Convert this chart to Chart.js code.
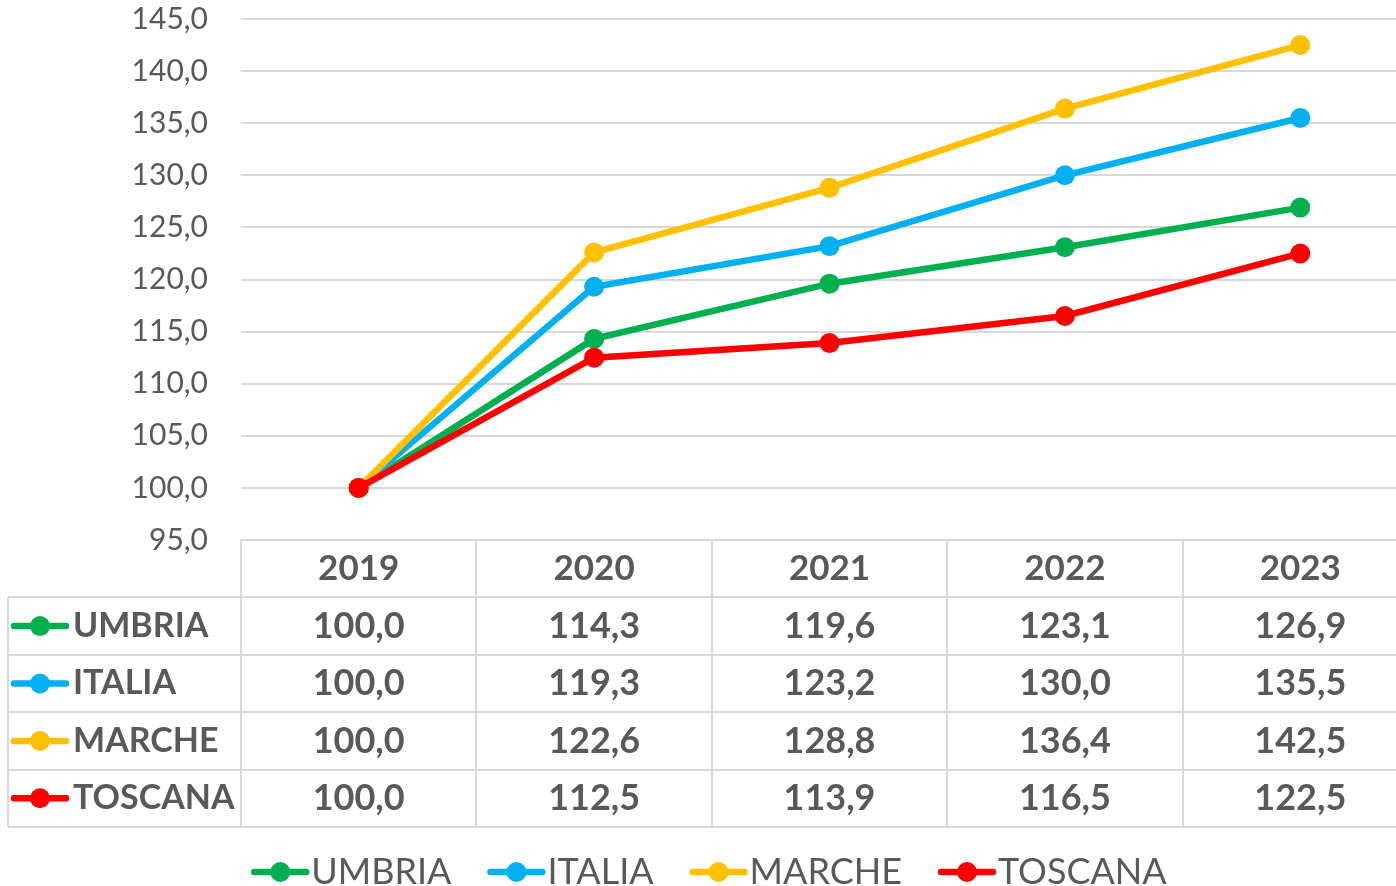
<!DOCTYPE html>
<html>
<head>
<meta charset="utf-8">
<script src="https://cdn.jsdelivr.net/npm/chart.js@4"></script>
<style>
  body { margin: 0; background: #fff; }
  #wrap { width: 1396px; height: 886px; overflow: hidden; }
</style>
</head>
<body>
<div id="wrap"><canvas id="chart" width="1418" height="886"></canvas></div>
<script>
// years and index values (2019 = 100)
const years = ["2019", "2020", "2021", "2022", "2023"];
const umbria = [100.0, 114.3, 119.6, 123.1, 126.9];
const italia = [100.0, 119.3, 123.2, 130.0, 135.5];
const marche = [100.0, 122.6, 128.8, 136.4, 142.5];
const toscana = [100.0, 112.5, 113.9, 116.5, 122.5];
const seriesNames = ["UMBRIA", "ITALIA", "MARCHE", "TOSCANA"];
const seriesColors = ["#00B050", "#00B0F0", "#FFC000", "#FF0000"];
const seriesValues = [umbria, italia, marche, toscana];

const TEXT = "#595959";
const GRID = "#d9d9d9";

function fmt(v) {
  return v.toFixed(1).replace(".", ",");
}

// small line + dot marker, like excel legend keys
function drawKey(ctx, x, y, color) {
  ctx.save();
  ctx.strokeStyle = color;
  ctx.lineWidth = 6.5;
  ctx.lineCap = "round";
  ctx.beginPath();
  ctx.moveTo(x + 3, y);
  ctx.lineTo(x + 55, y);
  ctx.stroke();
  ctx.fillStyle = color;
  ctx.beginPath();
  ctx.arc(x + 29, y, 10, 0, Math.PI * 2);
  ctx.fill();
  ctx.restore();
}

// data table under the plot + bottom legend
const tablePlugin = {
  id: "dataTable",
  afterDraw(chart) {
    const ctx = chart.ctx;
    const xs = chart.scales.x;
    const area = chart.chartArea;
    const step = xs.getPixelForValue(1) - xs.getPixelForValue(0);
    const top = area.bottom;
    const rowH = 57.4;
    const tableLeft = 8;
    const colLeft = area.left;
    const right = chart.width;
    const bottom = top + rowH * (seriesNames.length + 1);

    ctx.save();
    ctx.strokeStyle = GRID;
    ctx.lineWidth = 2;
    // horizontal lines
    ctx.beginPath();
    ctx.moveTo(colLeft, top);
    ctx.lineTo(right, top);
    for (let r = 1; r <= seriesNames.length + 1; r++) {
      const y = Math.round(top + rowH * r);
      ctx.moveTo(tableLeft, y);
      ctx.lineTo(right, y);
    }
    // vertical lines
    ctx.moveTo(tableLeft, Math.round(top + rowH));
    ctx.lineTo(tableLeft, bottom);
    for (let i = 0; i < years.length; i++) {
      const x = Math.round(xs.getPixelForValue(i) - step / 2);
      ctx.moveTo(x, top);
      ctx.lineTo(x, bottom);
    }
    ctx.stroke();

    ctx.fillStyle = TEXT;
    ctx.textBaseline = "middle";
    ctx.textAlign = "center";
    ctx.font = "bold 35px Lato";
    years.forEach((yr, i) => {
      ctx.fillText(yr, xs.getPixelForValue(i), top + rowH / 2);
    });
    seriesNames.forEach((name, r) => {
      const cy = top + rowH * (r + 1.5);
      drawKey(ctx, 11, cy, seriesColors[r]);
      ctx.fillStyle = TEXT;
      ctx.textAlign = "left";
      ctx.font = "bold 34px Lato";
      ctx.fillText(name, 73, cy);
      ctx.textAlign = "center";
      ctx.font = "bold 36px Lato";
      seriesValues[r].forEach((v, i) => {
        ctx.fillText(fmt(v), xs.getPixelForValue(i), cy);
      });
    });

    // legend
    ctx.font = "36px Lato";
    const gap = 36;
    const keyW = 60;
    const widths = seriesNames.map(n => keyW + ctx.measureText(n).width);
    const total = widths.reduce((a, b) => a + b, 0) + gap * (seriesNames.length - 1);
    let x = 709 - total / 2;
    const ly = 872;
    seriesNames.forEach((name, r) => {
      drawKey(ctx, x, ly, seriesColors[r]);
      ctx.fillStyle = TEXT;
      ctx.textAlign = "left";
      ctx.fillText(name, x + keyW, ly);
      x += widths[r] + gap;
    });
    ctx.restore();
  }
};

const datasets = seriesNames.map((name, r) => ({
  label: name,
  data: seriesValues[r],
  borderColor: seriesColors[r],
  backgroundColor: seriesColors[r],
  pointBackgroundColor: seriesColors[r],
  pointBorderWidth: 0,
  pointRadius: 10,
  borderWidth: 6.5,
  tension: 0,
  order: seriesNames.length - r
}));

new Chart(document.getElementById("chart"), {
  type: "line",
  data: { labels: years, datasets: datasets },
  options: {
    responsive: false,
    animation: false,
    devicePixelRatio: 1,
    layout: { autoPadding: false, padding: { top: 19, bottom: 346, left: 0, right: 0 } },
    plugins: { legend: { display: false }, tooltip: { enabled: false } },
    scales: {
      x: { display: false, offset: true },
      y: {
        min: 95,
        max: 145,
        afterFit(scale) {
          scale.width = 241;
          scale.paddingTop = 0;
          scale.paddingBottom = 0;
        },
        border: { display: false },
        grid: { color: GRID, lineWidth: 2, drawTicks: false },
        ticks: {
          stepSize: 5,
          padding: 33,
          color: TEXT,
          font: { family: "Lato", size: 30 },
          callback: v => fmt(v)
        }
      }
    }
  },
  plugins: [tablePlugin]
});
</script>
</body>
</html>
